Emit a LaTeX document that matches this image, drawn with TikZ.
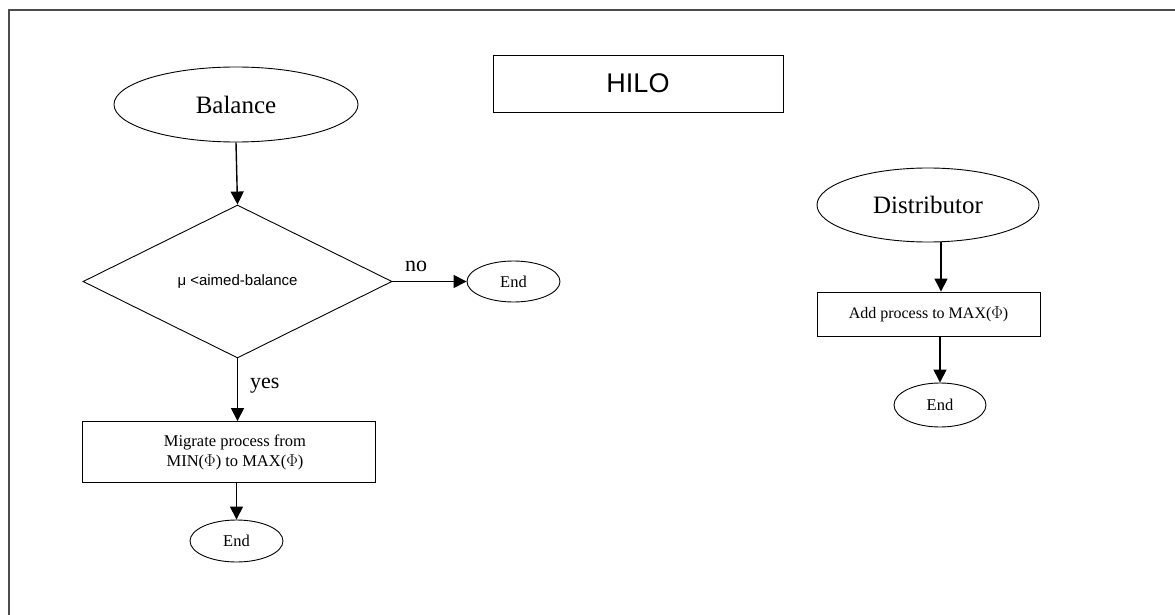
\documentclass[tikz,border=0pt]{standalone}
\usepackage{fontspec}
\setmainfont{Liberation Serif}
\newfontfamily\arialf{Liberation Sans}
\usetikzlibrary{shapes.geometric,arrows.meta}
\begin{document}
\begin{tikzpicture}[x=1pt,y=-1pt,
  shapeline/.style={draw=black,line width=0.9pt},
  oval/.style={shapeline,ellipse,inner sep=0pt},
  boxnode/.style={shapeline,rectangle,inner sep=0pt,align=center},
  decision/.style={shapeline,diamond,inner sep=0pt},
  flow/.style={line width=1.4pt,-{Triangle[length=13pt,width=13pt]}},
  lbl/.style={inner sep=0pt,font=\fontsize{22}{24}\selectfont}
]
\useasboundingbox (0,0) rectangle (1175,615);
\draw[line width=1.6pt,black!70] (1175,10) -- (9,10) -- (9,615);

\node[boxnode,minimum width=290pt,minimum height=57pt,font=\arialf\fontsize{27}{29}\selectfont] (hilo) at (638,83.5) {HILO};

% left flow
\node[oval,minimum width=244pt,minimum height=75pt,font=\fontsize{25}{27}\selectfont] (bal) at (236,104.5) {Balance};
\node[decision,minimum width=309pt,minimum height=153pt,font=\arialf\fontsize{15}{17}\selectfont] (dec) at (237.5,281.5) {μ <aimed-balance};
\node[oval,minimum width=93pt,minimum height=41pt,font=\fontsize{16.5}{18}\selectfont] (end1) at (513.5,281.5) {End};
\node[boxnode,minimum width=293pt,minimum height=61pt,font=\fontsize{16.5}{20}\selectfont] (mig) at (228.5,452) {\hspace*{13pt}Migrate process from\\\hspace*{13pt}MIN($\Phi$) to MAX($\Phi$)};
\node[oval,minimum width=93pt,minimum height=42pt,font=\fontsize{16.5}{18}\selectfont] (end2) at (236.5,541) {End};

\draw[flow] (bal.south) -- (dec.north);
\draw[flow] (dec.east) -- (end1.west);
\draw[flow] (dec.south) -- (mig.north -| dec.south);
\draw[flow] (mig.south -| end2.north) -- (end2.north);

\node[lbl,anchor=south west] (no) at (405,272) {no};
\node[lbl,anchor=south west] (yes) at (250,393) {yes};

% right flow
\node[oval,minimum width=222pt,minimum height=74pt,font=\fontsize{25}{27}\selectfont] (dist) at (928,205) {Distributor};
\node[boxnode,minimum width=223pt,minimum height=44pt,font=\fontsize{16}{18}\selectfont] (add) at (928.5,314) {Add process to MAX($\Phi$)};
\node[oval,minimum width=92pt,minimum height=44pt,font=\fontsize{16.5}{18}\selectfont] (end3) at (940,405) {End};

\coordinate (d1) at (941,242);
\draw[flow] (d1) -- (d1 |- add.north);
\draw[flow] (end3.north |- add.south) -- (end3.north);
\end{tikzpicture}
\end{document}
